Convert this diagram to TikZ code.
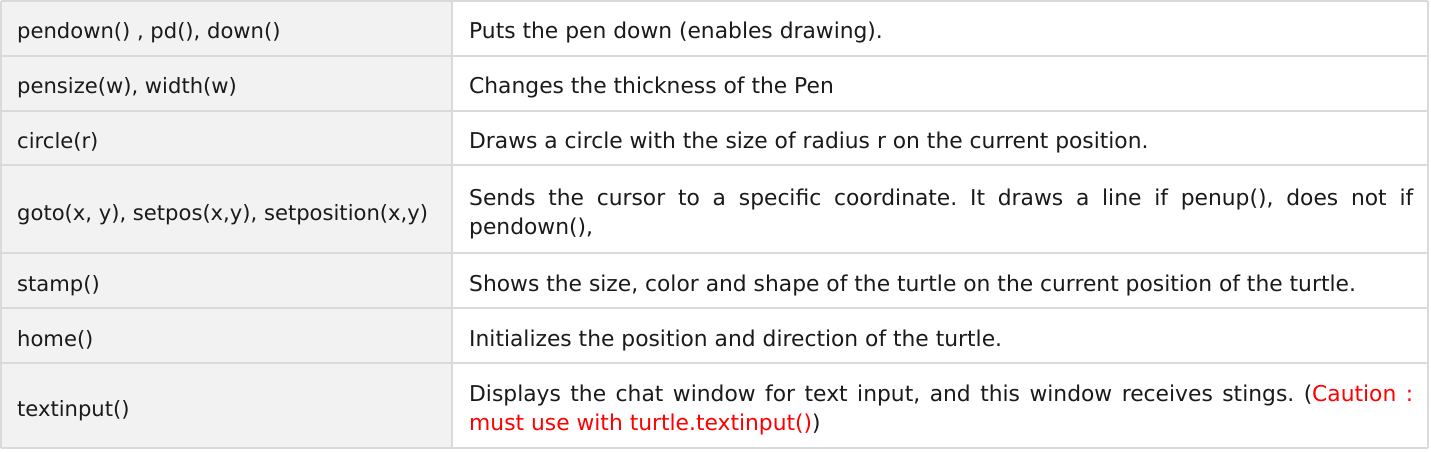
\documentclass[tikz,border=0pt]{standalone}
\usepackage{fontspec}
\setmainfont{DejaVu Sans}
\definecolor{gridc}{HTML}{DADADA}
\definecolor{leftbg}{HTML}{F2F2F2}
\definecolor{txt}{HTML}{1A1A1A}
\definecolor{warn}{HTML}{FF0000}
\frenchspacing
\tikzset{
  cellfont/.style={text=txt, inner sep=0pt},
  lcell/.style={cellfont, font=\fontsize{21.1}{29}\selectfont, anchor=base west},
  rcell/.style={cellfont, font=\fontsize{21.8}{29}\selectfont, anchor=base west},
  rpar/.style={rcell, text width=944pt, align=justify},
  gridline/.style={draw=gridc, line width=2pt},
}
\begin{document}
\begin{tikzpicture}[x=1pt,y=-1pt]
\useasboundingbox (0,0) rectangle (1431,451);
\fill[white] (0,0) rectangle (1431,451);
\fill[leftbg] (1,1) rectangle (452,448);
% horizontal rules
\foreach \yy in {1,55.7,110.7,165.3,253.3,308.3,362.7,448}
  \draw[gridline] (1,\yy) -- (1428,\yy);
% vertical rules
\foreach \xx in {1,452,1428}
  \draw[gridline] (\xx,1) -- (\xx,448);
% left column
\node[lcell] (l1) at (17,38.9) {pendown() , pd(), down()};
\node[lcell] (l2) at (17,93.7) {pensize(w), width(w)};
\node[lcell] (l3) at (17,148.5) {circle(r)};
\node[lcell] (l4) at (17,220.5) {goto(x, y), setpos(x,y), setposition(x,y)};
\node[lcell] (l5) at (17,291.3) {stamp()};
\node[lcell] (l6) at (17,346) {home()};
\node[lcell] (l7) at (17,416) {textinput()};
% right column
\node[rcell] (r1) at (469,38.9) {Puts the pen down (enables drawing).};
\node[rcell] (r2) at (469,93.7) {Changes the thickness of the Pen};
\node[rcell] (r3) at (469,148.5) {Draws a circle with the size of radius r on the current position.};
\node[rpar] (r4) at (469,205.7) {Sends the cursor to a specific coordinate. It draws a line if penup(), does not if\linebreak pendown(),};
\node[rcell] (r5) at (469,291.3) {Shows the size, color and shape of the turtle on the current position of the turtle.};
\node[rcell] (r6) at (469,346) {Initializes the position and direction of the turtle.};
\node[rpar] (r7) at (469,401.7) {Displays the chat window for text input, and this window receives stings. (\textcolor{warn}{Caution :\linebreak must use with turtle.textinput()})};
\end{tikzpicture}
\end{document}
